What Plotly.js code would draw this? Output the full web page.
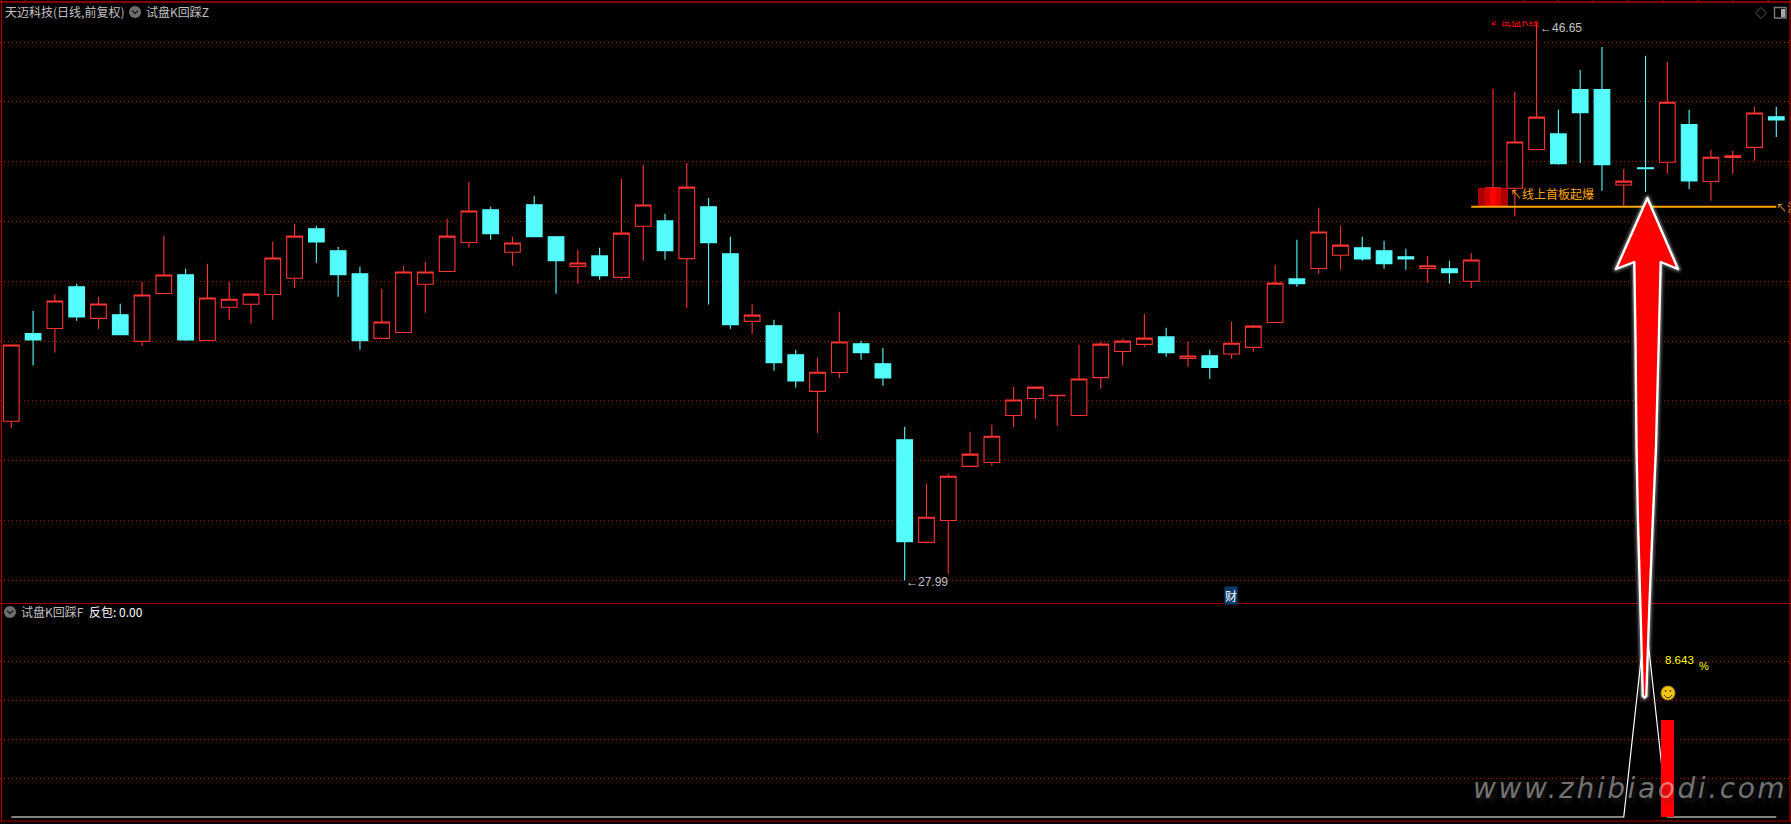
<!DOCTYPE html>
<html>
<head>
<meta charset="utf-8">
<script src="https://cdn.plot.ly/plotly-3.0.1.min.js"></script>
<style>
html,body{margin:0;padding:0;background:#000;overflow:hidden}
#chart{width:1791px;height:824px}
.shapelayer path{stroke-linejoin:round}
</style>
</head>
<body>
<div id="chart"></div>
<script>
// ---------- price data ----------
const openPrices = [33.32,36.25,36.42,37.82,36.76,36.88,35.99,37.59,38.22,36.02,
37.13,37.23,37.56,38.10,39.76,39.02,38.25,36.09,36.29,37.90,
38.33,39.30,40.39,38.97,40.56,39.49,38.50,38.85,38.13,39.84,
40.02,38.76,40.49,38.92,36.66,36.51,35.54,34.32,34.95,35.91,
35.24,32.70,29.27,30.00,31.81,31.94,33.51,34.08,34.17,33.51,
34.78,35.65,35.89,36.14,35.42,35.51,35.57,35.79,36.62,38.08,
38.43,38.87,39.12,39.02,38.82,38.43,38.42,38.00,40.53,41.11,
42.41,42.93,44.41,44.41,41.22,41.80,41.98,43.24,41.34,42.14,42.48,43.50];
const closePrices = [35.87,36.04,37.34,36.81,37.24,36.21,37.54,38.21,36.04,37.44,
37.40,37.57,38.78,39.51,39.32,38.22,36.01,36.64,38.31,38.31,
39.51,40.35,39.59,39.28,39.49,38.69,38.61,38.19,39.61,40.55,
39.02,41.15,39.29,36.55,36.87,35.28,34.67,34.96,35.97,35.61,
34.77,29.29,30.11,31.48,32.22,32.82,34.03,34.46,34.19,34.73,
35.90,36.00,36.10,35.61,35.50,35.12,35.93,36.50,37.94,37.92,
39.65,39.21,38.75,38.59,38.75,38.52,38.29,38.71,41.13,42.66,
43.49,41.93,43.64,41.90,41.35,41.77,43.99,41.36,42.15,42.20,43.63,43.40];
const highPrices = [35.87,37.01,37.55,37.92,37.48,37.25,37.98,39.52,38.42,38.59,
37.98,37.62,39.32,39.92,39.86,39.15,38.49,37.75,38.52,38.65,
40.09,41.33,40.49,39.49,40.86,39.49,39.05,39.12,41.43,41.90,
40.26,41.96,40.79,39.49,37.22,36.71,35.71,35.44,36.98,36.01,
35.78,33.13,31.23,31.56,32.97,33.20,34.47,34.46,34.19,35.88,
35.98,36.08,36.91,36.45,35.98,35.71,36.65,36.55,38.55,39.39,
40.46,39.86,39.49,39.36,39.09,38.85,38.69,38.95,44.44,44.34,
46.65,43.74,45.07,45.84,41.76,45.54,45.34,43.74,42.40,42.37,43.84,43.84];
const lowPrices = [33.09,35.18,35.62,36.68,36.41,36.21,35.84,37.59,36.01,36.02,
36.71,36.58,36.71,37.78,38.62,37.48,35.71,36.09,36.29,36.95,
38.33,39.12,39.39,38.52,39.49,37.58,37.92,38.05,38.06,38.69,
38.72,37.11,37.22,36.41,36.25,35.01,34.44,32.93,34.77,35.38,
34.51,27.99,29.27,28.22,31.81,31.83,33.13,33.40,33.17,33.51,
34.41,35.21,35.81,35.48,35.14,34.74,35.41,35.64,36.62,37.82,
38.25,38.39,38.69,38.42,38.39,37.95,37.92,37.78,40.53,40.17,
42.41,41.90,41.96,41.03,40.50,40.99,41.60,41.09,40.69,41.60,42.03,42.83];
const candleIndex = openPrices.map((_, i) => i);

// ---------- overlays ----------
const supportLineIndex = [67,68,69,70,71,72,73,74,75,76,77,78,79,80,81];
const supportLineValue = supportLineIndex.map(() => 40.49);
const limitBlockIndex = [67.47,67.73,68,68.27,68.53];
const limitBlockTop = [0.6,0.6,0.6,0.6,0.6];
const limitBlockBase = [40.53,40.53,40.53,40.53,40.53];
const limitBlockColors = ['#a80000','#cc0000','#ff0000','#dd0000','#b00000'];

// ---------- indicator panel ----------
const indicatorValues = candleIndex.map(i => i === 75 ? 17.7 : 0);
const barIndex = [76];
const barValues = [8.643];

// ---------- tick labels ----------
const priceGrid = [28,30,32,34,36,38,40,42,44,46];
const indicatorGrid = [3.475,6.95,10.425,13.9];
const topTickPx = [25,1524,1558,1593,1628,1663,1698,1733,1768];

const W = 1791, H = 824;
const px = x => x / W, py = y => 1 - y / H;
const ppath = pts => pts.map((p,i)=>(i?'L':'M')+px(p[0]).toFixed(5)+','+py(p[1]).toFixed(5)).join(' ')+' Z';

const arrowOutline = [[1647.4,198],[1678,269],[1660.7,262],[1658.8,340],[1656,447],[1652.7,523],[1649.5,603],
 [1646.3,696],[1644.5,697.5],[1642.8,696],[1640.3,603],[1638,523],[1636.5,447],[1635.5,340],[1634.3,262],[1616,269]];

const red = '#ff3333', cyan = '#54fcfc', border = '#a80000', gridc = '#9c0000';
const CJK = '"Noto Sans CJK SC", sans-serif';

const traces = [
 {type:'candlestick', x:candleIndex, open:openPrices, high:highPrices, low:lowPrices, close:closePrices,
  xaxis:'x', yaxis:'y', whiskerwidth:0, hoverinfo:'skip',
  increasing:{line:{color:red,width:1.1}, fillcolor:'#000000'},
  decreasing:{line:{color:cyan,width:1.1}, fillcolor:cyan}},
 {type:'bar', x:limitBlockIndex, y:limitBlockTop, base:limitBlockBase, width:0.31, xaxis:'x', yaxis:'y4',
  marker:{color:limitBlockColors, line:{width:0}}, hoverinfo:'skip'},
 {type:'scatter', mode:'lines', x:supportLineIndex, y:supportLineValue, xaxis:'x', yaxis:'y4',
  line:{color:'#ffa500',width:2}, hoverinfo:'skip'},
 {type:'scatter', mode:'lines', x:candleIndex, y:indicatorValues, xaxis:'x', yaxis:'y2',
  line:{color:'#ffffff',width:1.2}, hoverinfo:'skip'},
 {type:'bar', x:barIndex, y:barValues, width:0.6, xaxis:'x', yaxis:'y3',
  marker:{color:'#ff0000', line:{width:0}}, hoverinfo:'skip'}
];

const txt = (text,x,y,color,size,extra) => Object.assign({
  text, x:px(x), y:py(y), xref:'paper', yref:'paper', xanchor:'left', yanchor:'middle',
  showarrow:false, borderpad:0, font:{family:CJK,size:size||12,color}
}, extra||{});
const num = {family:'"Liberation Sans", sans-serif',size:12,color:'#c0c0c0'};

const annotations = [
 txt('天迈科技(日线,前复权)',4,11,'#c0c0c0'),
 txt('试盘K回踩Z',145,11,'#c0c0c0'),
 txt('试盘K回踩F',20,611,'#c0c0c0'),
 txt('反包: 0.00',88,611,'#ffffff'),
 txt('↙试盘K线',1489,21,'#ff0000',10.5),
 {text:'←46.65', x:70, y:46.65, xref:'x', yref:'y', xanchor:'left', yanchor:'middle', yshift:-5, xshift:1, showarrow:false, font:num},
 {text:'←27.99', x:41, y:27.99, xref:'x', yref:'y', xanchor:'left', yanchor:'middle', yshift:-1, xshift:-1, showarrow:false, font:num},
 txt('↖线上首板起爆',1509,193,'#ffa500'),
 txt('↖注',1775,207,'#ffa500',11),
 txt('财',1224,595.5,'#ffffff',12,{bgcolor:'#0a3c6e'}),
 txt('8.643',1664,660,'#ffff00',12,{font:{family:'"Liberation Sans", sans-serif',size:11.5,color:'#ffff00'}}),
 txt('%',1698,666,'#ffff00',11,{font:{family:'"Liberation Sans", sans-serif',size:11,color:'#ffff00'}}),
 {text:'www.zhibiaodi.com', x:px(1493), y:py(788), xref:'paper', yref:'paper', xanchor:'left', yanchor:'middle',
  showarrow:false, font:{family:'"DejaVu Sans", sans-serif', style:'italic', size:28, color:'rgba(255,255,255,0.44)',
  shadow:'3px 4px 4px rgba(60,60,60,0.95)'}}
];

const pline = (x0,y0,x1,y1,color,width) => ({type:'line',xref:'paper',yref:'paper',x0:px(x0),y0:py(y0),x1:px(x1),y1:py(y1),layer:'above',line:{color,width:width||1}});
const pcirc = (cx,cy,r,fill,lc) => ({type:'circle',xref:'paper',yref:'paper',x0:px(cx-r),x1:px(cx+r),y0:py(cy+r),y1:py(cy-r),layer:'above',fillcolor:fill,line:{color:lc||fill,width:lc?1:0}});
const pshape = (pts,fill,lc,w,close) => ({type:'path',xref:'paper',yref:'paper',layer:'above',
   path: close===false ? ppath(pts).replace(' Z','') : ppath(pts), fillcolor:fill, line:{color:lc,width:w}});

const chevron = (cx,cy)=>[pcirc(cx,cy,6,'#6e6e6e'),
   pshape([[cx-3,cy-1.5],[cx,cy+1.5],[cx+3,cy-1.5]],'rgba(0,0,0,0)','#1a1a1a',1.2,false)];

const shapes = [
 pline(0,2,1791,2,border,1.5), pline(1.5,0,1.5,821,border,1.2), pline(1790,0,1790,821,border,1.2),
 pline(0,603.5,1791,603.5,border,1.2), pline(0,821,1791,821,border,1.2),
 ...topTickPx.map(x=>pline(x,0,x,2,border,1)),
 ...chevron(135,12), ...chevron(10,612),
 // top-right window icons
 pshape([[1761,7.5],[1766.5,13],[1761,18.5],[1755.5,13]],'rgba(0,0,0,0)','#5a5a5a',1),
 {type:'rect',xref:'paper',yref:'paper',layer:'above',x0:px(1774.5),x1:px(1786),y0:py(18),y1:py(7.5),fillcolor:'rgba(0,0,0,0)',line:{color:'#7a7a7a',width:1.4}},
 {type:'rect',xref:'paper',yref:'paper',layer:'above',x0:px(1781),x1:px(1785),y0:py(17),y1:py(9),fillcolor:'#a8a8a8',line:{width:0}},
 // big red arrow with white outline and soft glow
 pshape(arrowOutline,'rgba(0,0,0,0)','rgba(255,255,255,0.10)',9),
 pshape(arrowOutline,'rgba(0,0,0,0)','rgba(255,255,255,0.22)',5.5),
 pshape(arrowOutline,'#ff0000','#ffffff',2.4),
 // smiley
 pcirc(1668,693,7,'#f2c416','#a88a10'),
 pcirc(1665.6,690.8,0.9,'#4a3a00'), pcirc(1670.4,690.8,0.9,'#4a3a00'),
 pshape([[1664,695],[1666,697.2],[1668,697.8],[1670,697.2],[1672,695]],'rgba(0,0,0,0)','#4a3a00',1,false)
];

const xr = [(0-11.3)/21.79, (1791-11.3)/21.79];
const topDom = [1-603/H, 1-2/H], botDom = [1-821/H, 1-603.5/H];
const topRange = [28+(580.3-603)/29.9, 28+(580.3-2)/29.9];
const botRange = [(817-821)*0.0891, (817-603.5)*0.0891];

const hiddenY = (dom,rng,over) => ({domain:dom,range:rng,overlaying:over,visible:false,showgrid:false,zeroline:false,fixedrange:true});

const layout = {
 width:W, height:H, margin:{l:0,r:0,t:0,b:0}, paper_bgcolor:'#000000', plot_bgcolor:'#000000',
 showlegend:false, boxgap:0.28, boxgroupgap:0, bargap:0, dragmode:false, hovermode:false,
 xaxis:{type:'linear',range:xr,visible:false,showgrid:false,zeroline:false,rangeslider:{visible:false},fixedrange:true,anchor:'y'},
 yaxis:{domain:topDom,range:topRange,tickmode:'array',tickvals:priceGrid,showticklabels:false,ticks:'',showline:false,zeroline:false,
   showgrid:true,gridcolor:gridc,gridwidth:1,griddash:'1px,3px',fixedrange:true},
 yaxis2:{domain:botDom,range:botRange,tickmode:'array',tickvals:indicatorGrid,showticklabels:false,ticks:'',showline:false,zeroline:false,
   showgrid:true,gridcolor:gridc,gridwidth:1,griddash:'1px,3px',fixedrange:true,anchor:'x'},
 yaxis3:hiddenY(botDom,botRange,'y2'),
 yaxis4:hiddenY(topDom,topRange,'y'),
 annotations, shapes
};

Plotly.newPlot('chart',traces,layout,{displayModeBar:false,staticPlot:true}).then(()=>{
 const notes = document.querySelectorAll('.annotation');
 notes.forEach(n=>{
  const t = n.textContent;
  if(t.indexOf('zhibiaodi')>=0){ n.querySelector('text').style.letterSpacing='2.6px'; }
  if(t.indexOf('↙')>=0){ n.style.clipPath='inset(48% 0 0 0)'; }
 });
});
</script>
</body>
</html>
